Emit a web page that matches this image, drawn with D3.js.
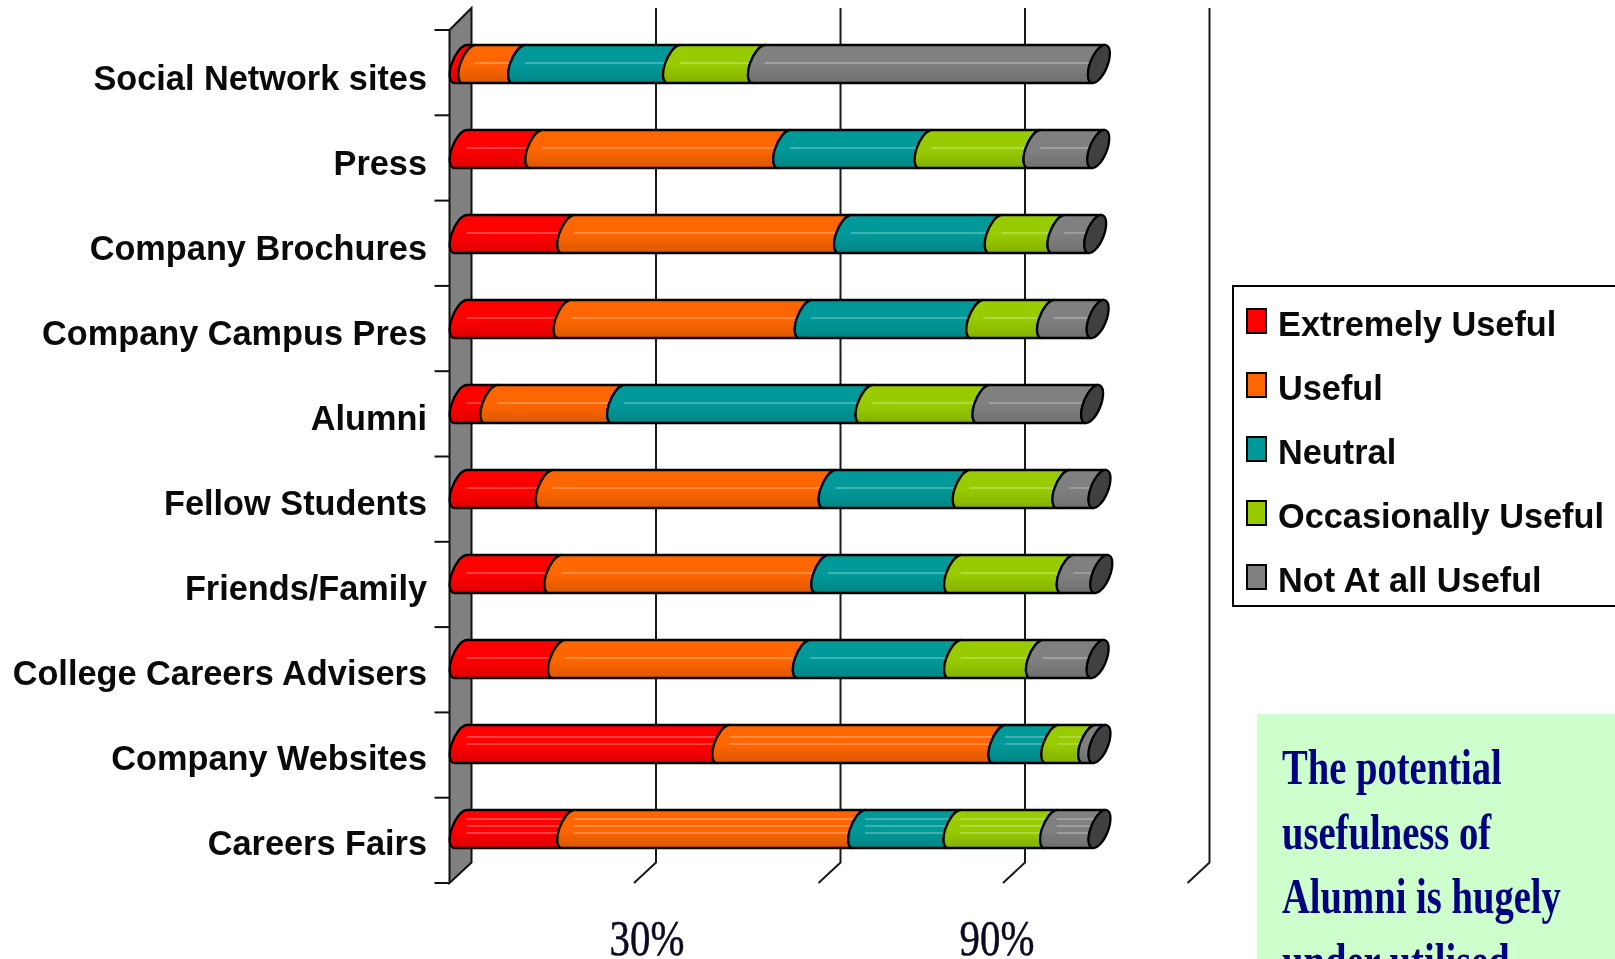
<!DOCTYPE html>
<html><head><meta charset="utf-8">
<script src="https://cdnjs.cloudflare.com/ajax/libs/d3/7.8.5/d3.min.js"></script>
<style>
html,body{margin:0;padding:0;background:#fff;overflow:hidden}
svg{display:block;filter:blur(.6px)}
</style></head><body><svg id="c" width="1615" height="959"></svg>
<script>
const categories=["Social Network sites","Press","Company Brochures","Company Campus Pres","Alumni","Fellow Students","Friends/Family","College Careers Advisers","Company Websites","Careers Fairs"];
const seriesNames=["Extremely Useful","Useful","Neutral","Occasionally Useful","Not At all Useful"];
const seriesColors=["#ff0000","#ff6600","#009999","#99cc00","#808080"];
const extremelyUseful=[1.4,12.3,17.5,16.9,5,14,15.4,16,42.7,17.5];
const useful=[8.1,40.3,45,39.2,20.6,46,43.4,39.8,44.9,47.3];
const neutral=[25.2,23,24.5,27.9,40.4,21.8,21.6,24.6,8.6,15.5];
const occasionallyUseful=[13.8,17.7,10.2,11.5,19,16.2,18.3,13.3,6,15.7];
const notAtAllUseful=[55.3,10.4,6,8.1,17.7,5.9,5.5,9.9,1.7,7.9];
const xTicks=[0,30,60,90,120];
const xTickLabels=[30,90];
const noteLines=["The potential","usefulness of","Alumni is hugely","under utilised"];

const W=1615,H=959,depth=22,rise=20.5;
const svg=d3.select("#c");
const defs=svg.append("defs");
const x=d3.scaleLinear().domain([0,120]).range([449.5,1187.5]);
const y=d3.scaleBand().domain(categories).range([31,881]);
const wallY=d3.scaleLinear().domain([0,categories.length]).range([30,883]);
const labelX=d3.scaleLinear().domain(xTickLabels).range([647,997]);
const barTop=14,barH=38;
const rx=8.6,ry=20.2,rot=22,ox=11,shear=6.1;

seriesColors.forEach((c,i)=>{
  const g=defs.append("linearGradient").attr("id","g"+i).attr("x1",0).attr("y1",0).attr("x2",0).attr("y2",1);
  g.append("stop").attr("offset","0%").attr("stop-color",c);
  g.append("stop").attr("offset","50%").attr("stop-color",c);
  g.append("stop").attr("offset","100%").attr("stop-color",d3.color(c).darker(.4));
});

// gridlines
const grid=svg.append("g").attr("stroke","#1a1a1a").attr("stroke-width",2).attr("fill","none");
xTicks.slice(1).forEach(t=>{
  const bx=x(t)+depth;
  grid.append("path").attr("d",`M${bx},8V${wallY(categories.length)-rise}L${x(t)},${wallY(categories.length)}`);
});

// wall
const wallB=wallY(categories.length);
svg.append("path").attr("d",`M${x(0)},${wallY(0)}L${x(0)+depth},8V${wallB-rise}L${x(0)},${wallB}Z`)
  .attr("fill","#808080").attr("stroke","#111").attr("stroke-width",2);
const axG=svg.append("g").attr("stroke","#111").attr("stroke-width",2);
d3.range(categories.length+1).forEach(i=>{
  axG.append("line").attr("x1",x(0)-15).attr("x2",x(0)).attr("y1",wallY(i)).attr("y2",wallY(i));
});

// bars
const rows=categories.map((c,i)=>({cat:c,0:extremelyUseful[i],1:useful[i],2:neutral[i],3:occasionallyUseful[i],4:notAtAllUseful[i]}));
const stacked=d3.stack().keys([0,1,2,3,4])(rows);
const highlights={"Careers Fairs":[-10,-3,4],"Company Websites":[-7,0]};
categories.forEach((c,ci)=>{
  const top=y(c)+barTop,bot=top+barH;
  const g=svg.append("g");
  stacked.forEach((s,si)=>{
    const x0=x(s[ci][0]),x1=x(s[ci][1]);
    const d=`M${x0+ox-shear},${bot}A${rx},${ry} ${rot} 0 1 ${x0+ox+shear},${top}L${x1+ox+shear},${top}A${rx},${ry} ${rot} 0 0 ${x1+ox-shear},${bot}Z`;
    g.append("path").attr("d",d).attr("fill",`url(#g${si})`).attr("stroke","#000").attr("stroke-width",2.3).attr("stroke-linejoin","round");
    const hl=highlights[c]||[-1];
    hl.forEach(o=>{
      const a=x0+ox+6,b=x1+ox-3;
      if(b-a>6) g.append("line").attr("x1",a).attr("x2",b).attr("y1",top+barH/2+o).attr("y2",top+barH/2+o)
        .attr("stroke","#fff").attr("stroke-opacity",.25).attr("stroke-width",1.8);
    });
  });
  const end=x(stacked[4][ci][1]);
  g.append("ellipse").attr("cx",end+ox).attr("cy",top+barH/2).attr("rx",rx).attr("ry",ry)
    .attr("transform",`rotate(${rot} ${end+ox} ${top+barH/2})`)
    .attr("fill","#404040").attr("stroke","#000").attr("stroke-width",2.3);
});

// category labels
const catFont=36,catScale=.953;
categories.forEach(c=>{
  svg.append("text").text(c)
    .attr("transform",`translate(427,${y(c)+barTop+barH/2+25.5}) scale(${catScale},1)`)
    .attr("text-anchor","end").attr("font-family","Liberation Sans").attr("font-weight","bold")
    .attr("font-size",catFont).attr("fill","#0a0a0a");
});

// x labels
xTickLabels.forEach(t=>{
  svg.append("text").text(t+"%")
    .attr("transform",`translate(${labelX(t)},955) scale(.8,1)`)
    .attr("text-anchor","middle").attr("font-family","Liberation Serif")
    .attr("font-size",51).attr("fill","#0a0a20").attr("stroke","#0a0a20").attr("stroke-width",.5);
});

// legend
const lg=svg.append("g");
lg.append("rect").attr("x",1233).attr("y",286).attr("width",W).attr("height",320)
  .attr("fill","#fff").attr("stroke","#000").attr("stroke-width",2);
const legY=d3.scalePoint().domain(seriesNames).range([309,565]);
seriesNames.forEach((n,i)=>{
  lg.append("rect").attr("x",1247).attr("y",legY(n)).attr("width",19).attr("height",24)
    .attr("fill",seriesColors[i]).attr("stroke","#000").attr("stroke-width",2);
  lg.append("text").text(n).attr("transform",`translate(1278,${legY(n)+27}) scale(.953,1)`)
    .attr("font-family","Liberation Sans").attr("font-weight","bold").attr("font-size",36).attr("fill","#0a0a0a");
});

// note
svg.append("rect").attr("x",1257).attr("y",714).attr("width",W).attr("height",H).attr("fill","#ccffcc");
const noteY=d3.scaleLinear().domain([0,1]).range([784,848.5]);
noteLines.forEach((t,i)=>{
  svg.append("text").text(t).attr("transform",`translate(1282,${noteY(i)}) scale(.757,1)`)
    .attr("font-family","Liberation Serif").attr("font-weight","bold").attr("font-size",51).attr("fill","#000080");
});
</script></body></html>
